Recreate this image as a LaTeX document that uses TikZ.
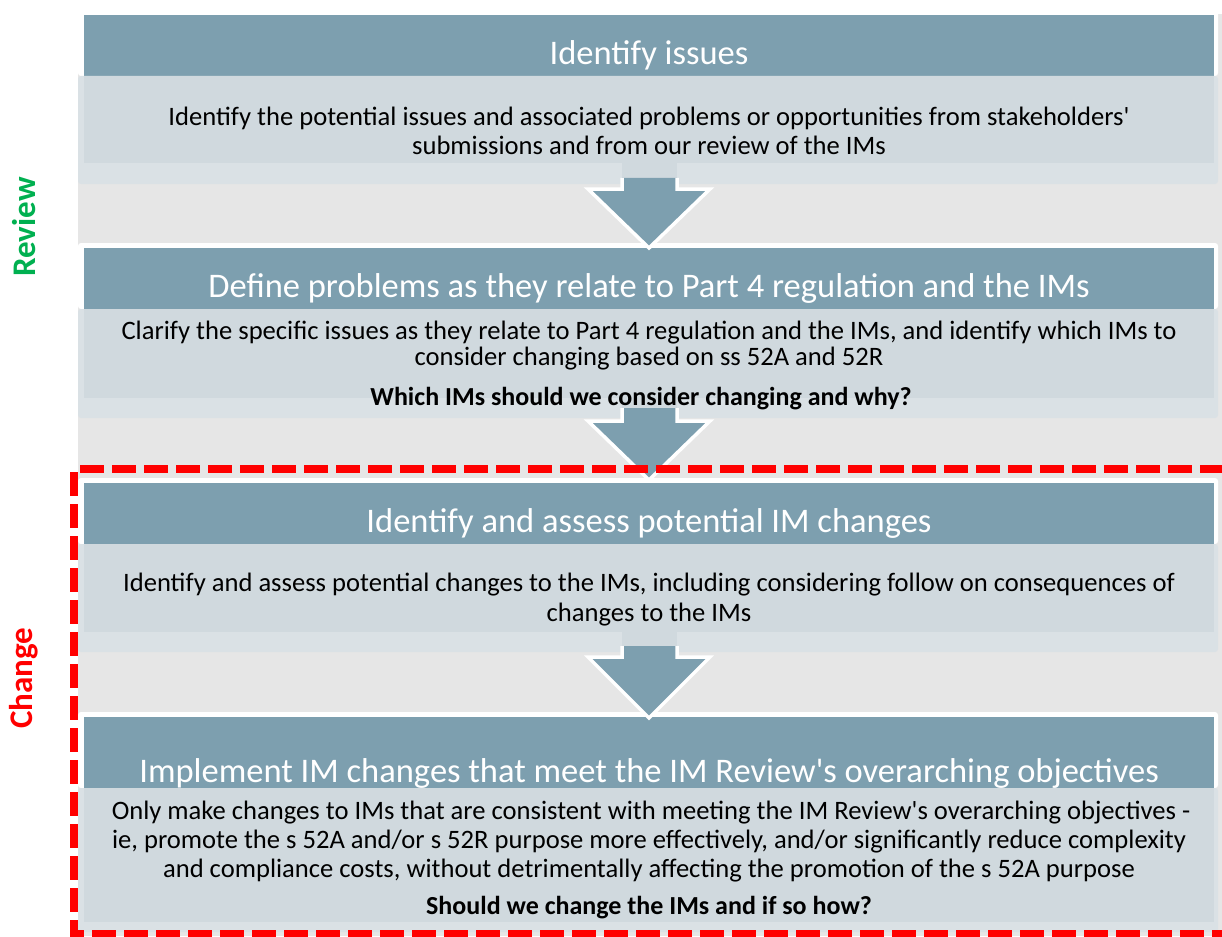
\documentclass[tikz,border=0pt]{standalone}
\usepackage{fontspec}
\setmainfont{Carlito}[Ligatures=TeXOff]
\definecolor{panelgray}{HTML}{E6E6E6}
\definecolor{headblue}{HTML}{7D9FAF}
\definecolor{bodygray}{HTML}{D0D9DE}
\definecolor{stripgray}{HTML}{DAE1E5}
\definecolor{revgreen}{HTML}{00B050}
\definecolor{chgred}{HTML}{FF0000}
\tikzset{
  headtext/.style={anchor=base, text=white, inner sep=0pt, font=\fontsize{34.5}{40}\selectfont},
  bodytext/.style={anchor=base, text=black, inner sep=0pt, font=\fontsize{26.6}{32}\selectfont},
  boldtext/.style={anchor=base, text=black, inner sep=0pt, font=\fontsize{26}{32}\selectfont\bfseries},
  sidelabel/.style={rotate=90, inner sep=0pt, font=\fontsize{33}{38}\selectfont\bfseries},
  arrowfill/.style={fill=headblue},
  arrowedge/.style={draw=white, line width=3.5pt, line join=miter},
}
% one stage: white frame, blue header, grey body with a lighter lower strip
% #1 header top, #2 header bottom, #3 inner body bottom, #4 strip bottom
\newcommand{\stagebox}[4]{%
  \fill[white, rounded corners=3pt] (78,#1-5) rectangle (1218,#2);
  \fill[headblue] (84,#1) rectangle (1214,#2);
  \fill[stripgray, rounded corners=3pt] (78,#2) rectangle (1218,#4);
  \fill[bodygray] (84,#2) rectangle (1214,#3);
}
% down arrow between stages
% #1 inner body bottom, #2 shaft top, #3 head base, #4 tip
\newcommand{\stagearrow}[4]{%
  \fill[bodygray] (622,#1) rectangle (677,#2);
  \fill[arrowfill] (622,#2) -- (622,#3) -- (588,#3) -- (649,#4) -- (710,#3) -- (677,#3) -- (677,#2) -- cycle;
  \draw[arrowedge] (622,#2) -- (622,#3) -- (588,#3) -- (649,#4) -- (710,#3) -- (677,#3) -- (677,#2);
}
\begin{document}
\begin{tikzpicture}[x=1pt, y=-1pt]
\useasboundingbox (0,0) rectangle (1222,936);
\fill[white] (0,0) rectangle (1222,936);
\fill[panelgray] (78,14) rectangle (1222,936);

% stages
\stagebox{15}{76}{163}{184}
\stagebox{248}{309}{398}{418}
\stagebox{483}{544}{632}{652}
\stagebox{717}{788}{922}{932}

% arrows
\stagearrow{163}{178}{189}{248}
\stagearrow{398}{408}{421}{480}
\stagearrow{632}{646}{657}{718}

% stage 1
\node[headtext] (h1) at (649,65) {Identify issues};
\node[bodytext] (b1a) at (649,126) {Identify the potential issues and associated problems or opportunities from stakeholders'};
\node[bodytext] (b1b) at (649,155) {submissions and from our review of the IMs};

% stage 2
\node[headtext] (h2) at (649,297) {Define problems as they relate to Part 4 regulation and the IMs};
\node[bodytext] (b2a) at (649,339) {Clarify the specific issues as they relate to Part 4 regulation and the IMs, and identify which IMs to};
\node[bodytext] (b2b) at (649,365) {consider changing based on ss 52A and 52R};
\node[boldtext] (q2) at (641,405) {Which IMs should we consider changing and why?};

% stage 3
\node[headtext] (h3) at (649,532) {Identify and assess potential IM changes};
\node[bodytext] (b3a) at (649,591) {Identify and assess potential changes to the IMs, including considering follow on consequences of};
\node[bodytext] (b3b) at (649,621) {changes to the IMs};

% stage 4
\node[headtext] (h4) at (649,782) {Implement IM changes that meet the IM Review's overarching objectives};
\node[bodytext] (b4a) at (651,819) {Only make changes to IMs that are consistent with meeting the IM Review's overarching objectives -};
\node[bodytext] (b4b) at (649,848) {ie, promote the s 52A and/or s 52R purpose more effectively, and/or significantly reduce complexity};
\node[bodytext] (b4c) at (649,877) {and compliance costs, without detrimentally affecting the promotion of the s 52A purpose};
\node[boldtext] (q4) at (649,914) {Should we change the IMs and if so how?};

% change phase boundary
\draw[chgred, line width=8pt, dash pattern=on 24pt off 8pt, dash phase=26pt] (74,469) -- (1232,469);
\draw[chgred, line width=8pt, dash pattern=on 24pt off 8pt, dash phase=29pt] (74,469) -- (74,934) -- (1232,934);

% phase labels
\node[sidelabel, text=revgreen] (review) at (24,227) {Review};
\node[sidelabel, text=chgred] (change) at (24,678) {Change};
\end{tikzpicture}
\end{document}
